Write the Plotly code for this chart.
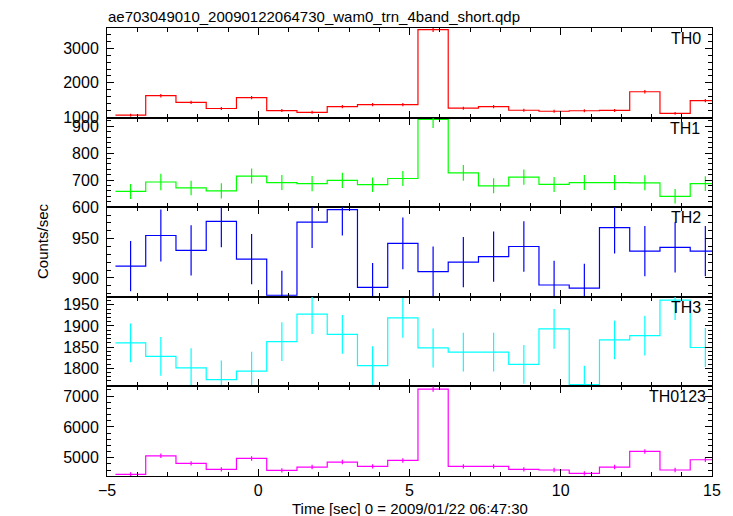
import plotly.graph_objects as go
from plotly.subplots import make_subplots

TITLE = "ae703049010_20090122064730_wam0_trn_4band_short.qdp"
X_TITLE = "Time [sec] 0 = 2009/01/22 06:47:30"
Y_TITLE = "Counts/sec"

# bin centres (sec) and half width
time_sec = [-4.22, -3.22, -2.22, -1.22, -0.22, 0.78, 1.78, 2.78, 3.78, 4.78,
            5.78, 6.78, 7.78, 8.78, 9.78, 10.78, 11.78, 12.78, 13.78, 14.78]
half_width = 0.5

th0 = [1055, 1625, 1430, 1250, 1570, 1190, 1140, 1305, 1365, 1365,
       3555, 1260, 1305, 1200, 1170, 1185, 1195, 1740, 1110, 1480]
th0_err = [40, 50, 47, 44, 49, 43, 42, 45, 46, 46,
           70, 44, 45, 43, 43, 43, 43, 52, 42, 48]

th1 = [658, 693, 671, 660, 715, 691, 687, 699, 683, 706,
       925, 727, 679, 711, 684, 691, 691, 690, 640, 687]
th1_err = [28, 31, 27, 28, 28, 28, 28, 28, 27, 28,
           32, 29, 28, 28, 28, 28, 28, 28, 27, 27]

th2 = [915, 954, 935, 972, 924, 878, 971, 987, 888, 944,
       908, 920, 927, 940, 891, 887, 964, 934, 939, 934]
th2_err = [32, 33, 32, 33, 32, 31, 33, 33, 31, 33,
           32, 32, 32, 32, 31, 31, 33, 32, 32, 32]

th3 = [1860, 1828, 1801, 1773, 1793, 1863, 1928, 1880, 1806, 1919,
       1848, 1838, 1838, 1809, 1893, 1761, 1867, 1877, 1961, 1849]
th3_err = [46, 46, 46, 45, 46, 46, 47, 46, 46, 47,
           46, 46, 46, 46, 47, 45, 46, 47, 47, 46]

th0123 = [4464, 5065, 4819, 4626, 4979, 4593, 4700, 4861, 4722, 4915,
          7226, 4722, 4722, 4626, 4604, 4497, 4700, 5206, 4604, 4937]
th0123_err = [70, 75, 72, 70, 73, 70, 71, 72, 71, 72,
              90, 71, 71, 70, 70, 69, 71, 74, 70, 72]

panels = [
    ("TH0", th0, th0_err, "#ff0000", [985, 3600], 1000, 200),
    ("TH1", th1, th1_err, "#00ff00", [599.5, 932], 100, 20),
    ("TH2", th2, th2_err, "#0000ff", [876, 990], 50, 10),
    ("TH3", th3, th3_err, "#00ffff", [1757, 1969], 50, 10),
    ("TH0123", th0123, th0123_err, "#ff00ff", [4410, 7313], 1000, 200),
]
label_right = [703, 702, 703, 703, 708]

FONT = "Liberation Sans, Arial, Helvetica, sans-serif"
OFF = 8                      # page body margin
W, H = 733 - OFF, 516 - OFF
# plot area in screen pixels
X0, X1, Y0, Y1 = 107, 712, 28, 476
ML, MR, MT, MB = X0 - OFF, W - (X1 - OFF), Y0 - OFF, H - (Y1 - OFF)
PW = X1 - X0
PH = Y1 - Y0

fig = make_subplots(rows=5, cols=1, shared_xaxes=True, vertical_spacing=0)

edges = [t - half_width for t in time_sec] + [time_sec[-1] + half_width]

for i, (name, vals, errs, col, yr, dt, mdt) in enumerate(panels):
    row = i + 1
    fig.add_trace(go.Scatter(
        x=edges, y=list(vals) + [vals[-1]], mode="lines",
        line=dict(color=col, width=1.2, shape="hv"),
        hoverinfo="skip", showlegend=False), row=row, col=1)
    fig.add_trace(go.Scatter(
        x=time_sec, y=vals, mode="markers",
        marker=dict(size=0.1, color=col, opacity=0),
        error_y=dict(type="data", array=errs, visible=True, width=0,
                     thickness=1.2, color=col),
        showlegend=False), row=row, col=1)
    fig.update_yaxes(
        row=row, col=1, range=yr, dtick=dt, tick0=0,
        ticks="inside", ticklen=7, tickwidth=1, tickcolor="black",
        minor=dict(ticks="inside", dtick=mdt, ticklen=4, tickwidth=1, tickcolor="black"),
        showline=True, linecolor="black", linewidth=1, mirror="ticks",
        showgrid=False, zeroline=False, ticklabelstandoff=4,
        tickfont=dict(family=FONT, size=16, color="black"),
    )
    fig.update_xaxes(
        row=row, col=1, range=[-5, 15], dtick=5, tick0=0,
        ticks="inside", ticklen=7, tickwidth=1, tickcolor="black",
        minor=dict(ticks="inside", dtick=1, ticklen=4, tickwidth=1, tickcolor="black"),
        showline=True, linecolor="black", linewidth=1, mirror="ticks",
        showgrid=False, zeroline=False,
        tickfont=dict(family=FONT, size=16, color="black"),
        showticklabels=(row == 5),
    )
    top_px = i * PH / 5.0
    fig.add_annotation(
        xref="paper", yref="paper",
        x=(label_right[i] - X0) / PW, y=1 - top_px / PH,
        xanchor="right", yanchor="top", text=name, showarrow=False,
        font=dict(family=FONT, size=16, color="black"), yshift=0)

fig.add_annotation(xref="paper", yref="paper", x=0, y=1 + (Y0 - 16) / PH,
                   xanchor="left", yanchor="middle", text=TITLE, showarrow=False,
                   borderpad=0,
                   font=dict(family=FONT, size=15, color="black"))
fig.add_annotation(xref="paper", yref="paper", x=(410 - X0) / PW, y=-(508 - Y1) / PH,
                   xanchor="center", yanchor="middle", text=X_TITLE, showarrow=False,
                   font=dict(family=FONT, size=15, color="black"))
fig.add_annotation(xref="paper", yref="paper", x=(42 - X0) / PW, y=1 - (241 - Y0) / PH,
                   xanchor="center", yanchor="middle", text=Y_TITLE, showarrow=False,
                   textangle=-90, font=dict(family=FONT, size=15, color="black"))

fig.update_layout(
    width=W, height=H,
    margin=dict(l=ML, r=MR, t=MT, b=MB),
    paper_bgcolor="white", plot_bgcolor="white",
    showlegend=False,
    font=dict(family=FONT, size=15, color="black"),
)

fig.write_html("out.html", config={"displayModeBar": False})
